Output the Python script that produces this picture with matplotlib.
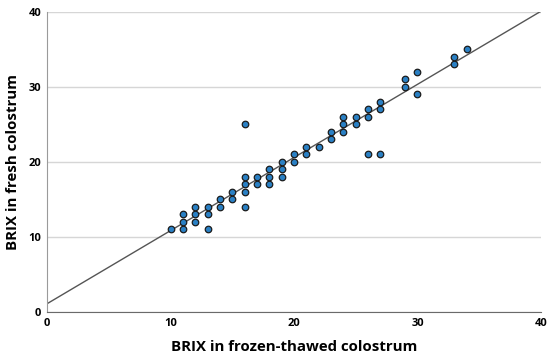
import numpy as np
import matplotlib
matplotlib.use('Agg')
import matplotlib.pyplot as plt

# BRIX values (frozen-thawed, fresh)
brix_frozen = [10, 11, 11, 11, 12, 12, 12, 13, 13, 13, 14, 14, 15, 15,
               16, 16, 16, 16, 16, 17, 17, 18, 18, 18, 19, 19, 19, 20, 20,
               21, 21, 22, 23, 23, 24, 24, 24, 25, 25, 26, 26, 26, 27, 27, 27,
               29, 29, 30, 30, 33, 33, 34]
brix_fresh = [11, 11, 12, 13, 12, 13, 14, 11, 13, 14, 14, 15, 15, 16,
              14, 16, 17, 18, 25, 17, 18, 17, 18, 19, 18, 19, 20, 20, 21,
              21, 22, 22, 23, 24, 24, 25, 26, 25, 26, 26, 27, 21, 27, 28, 21,
              30, 31, 29, 32, 33, 34, 35]

# fit line
fit_intercept = 1.1
fit_slope = 0.975

ticks = [0, 10, 20, 30, 40]

plt.rcParams['font.family'] = ['Open Sans', 'DejaVu Sans']

fig = plt.figure(figsize=(5.5, 3.58), dpi=100)
ax = fig.add_axes([0.0855, 0.1285, 0.898, 0.838])

xs = np.array([0, 40])
ax.plot(xs, fit_intercept + fit_slope * xs, color='#555555', lw=1.0, zorder=2)
ax.scatter(brix_frozen, brix_fresh, s=22, c='#2a80c4', edgecolors='#1b1b1b',
           linewidths=0.9, zorder=3)

ax.set_xlim(0, 40)
ax.set_ylim(0, 40)
ax.set_xticks(ticks)
ax.set_yticks(ticks)
ax.yaxis.grid(True, color='#d6d6d6', lw=1.0)
ax.set_axisbelow(True)
ax.tick_params(length=0, labelsize=8, pad=4)
for lab in ax.get_xticklabels() + ax.get_yticklabels():
    lab.set_fontweight('bold')

for s in ['top', 'right']:
    ax.spines[s].set_visible(False)
ax.spines['left'].set_color('#9a9a9a')
ax.spines['bottom'].set_color('#6a6a6a')

ax.set_xlabel('BRIX in frozen-thawed colostrum', fontsize=10.8,
              fontweight='bold', labelpad=8)
ax.set_ylabel('BRIX in fresh colostrum', fontsize=10.8,
              fontweight='bold', labelpad=6)

fig.savefig('out.png', dpi=100)
